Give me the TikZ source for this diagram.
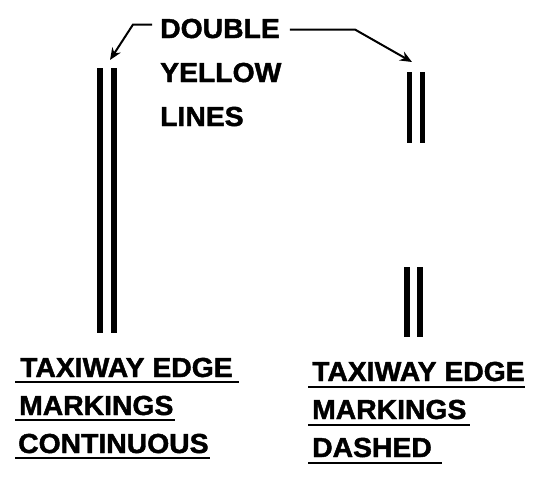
\documentclass[tikz,border=0pt]{standalone}
\usepackage{fontspec}
\setmainfont{Liberation Sans}[FakeStretch=1.04,BoldFeatures={FakeBold=1.6,FakeStretch=1.03}]
\usetikzlibrary{arrows.meta}
\begin{document}
\begin{tikzpicture}[x=1pt,y=-1pt,
  lbl/.style={inner sep=0pt,anchor=base west,font=\fontsize{27.5}{32}\selectfont\bfseries},
  edgeline/.style={line width=5.5pt},
  uline/.style={line width=2.6pt},
  arr/.style={line width=2pt,-{Stealth[length=12pt,width=10pt]}}]
\useasboundingbox (0,0) rectangle (550,488);
% header text
\node[lbl] (dbl) at (160,38) {DOUBLE};
\node[lbl] (yel) at (160,82) {YELLOW};
\node[lbl] (lin) at (160,126) {LINES};
% continuous double lines
\coordinate (la1) at (100,68);  \coordinate (lb1) at (100,333);
\coordinate (la2) at (114,68);  \coordinate (lb2) at (114,333);
\draw[edgeline] (la1) -- (lb1);
\draw[edgeline] (la2) -- (lb2);
% dashed double lines
\coordinate (ra1) at (409.5,72);  \coordinate (rb1) at (409.5,143);
\coordinate (ra2) at (422.5,72);  \coordinate (rb2) at (422.5,143);
\coordinate (rc1) at (407,267);   \coordinate (rd1) at (407,337);
\coordinate (rc2) at (420,267);   \coordinate (rd2) at (420,337);
\draw[edgeline] (ra1) -- (rb1);
\draw[edgeline] (ra2) -- (rb2);
\draw[edgeline] (rc1) -- (rd1);
\draw[edgeline] (rc2) -- (rd2);
% arrows
\coordinate (ltip) at (110,60);
\coordinate (rtip) at (412,62);
\draw[arr] ([xshift=-8pt,yshift=4pt]dbl.west) -- ++(-19,0) -- (ltip);
\draw[arr] ([xshift=10pt,yshift=-1pt]dbl.east) -- ++(65,0) -- (rtip);
% bottom left labels
\node[lbl] (t1) at (20,377) {TAXIWAY EDGE};
\node[lbl] (m1) at (19,415) {MARKINGS};
\node[lbl] (c1) at (18,453) {CONTINUOUS};
\coordinate (u1a) at (15,382); \coordinate (u1b) at (239,382);
\coordinate (u2a) at (15,420); \coordinate (u2b) at (175,420);
\coordinate (u3a) at (15,458); \coordinate (u3b) at (210,458);
\draw[uline] (u1a) -- (u1b);
\draw[uline] (u2a) -- (u2b);
\draw[uline] (u3a) -- (u3b);
% bottom right labels
\node[lbl] (t2) at (312,381) {TAXIWAY EDGE};
\node[lbl] (m2) at (312,419) {MARKINGS};
\node[lbl] (d2) at (312,457) {DASHED};
\coordinate (v1a) at (308,387); \coordinate (v1b) at (525,387);
\coordinate (v2a) at (308,425); \coordinate (v2b) at (470,425);
\coordinate (v3a) at (308,463); \coordinate (v3b) at (442,463);
\draw[uline] (v1a) -- (v1b);
\draw[uline] (v2a) -- (v2b);
\draw[uline] (v3a) -- (v3b);
\end{tikzpicture}
\end{document}
